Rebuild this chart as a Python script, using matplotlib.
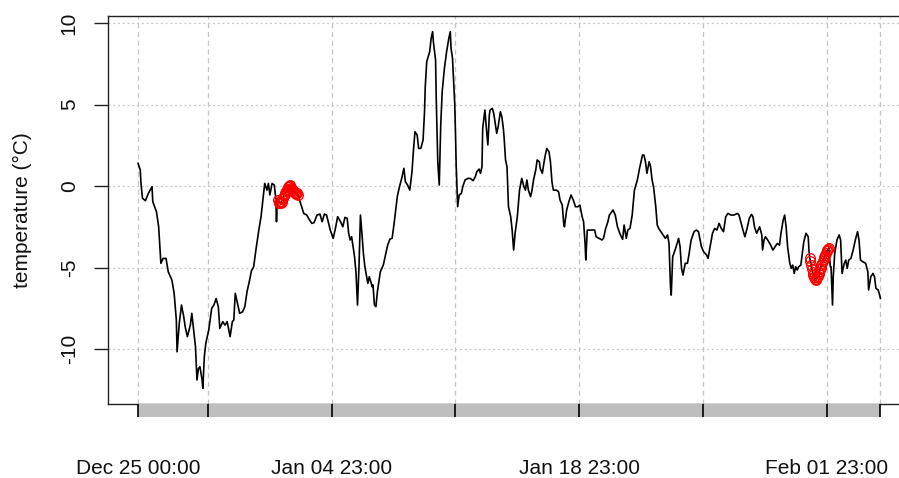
import numpy as np
import pandas as pd
import matplotlib
matplotlib.use("Agg")
import matplotlib.pyplot as plt
import matplotlib.transforms as mtransforms

plt.rcParams["font.family"] = ["Liberation Sans", "DejaVu Sans"]

# Hourly air temperature, stored as (hours since start, value)
start = pd.Timestamp("2014-12-25 00:00")

hours = [
    0, 3, 4, 6, 10, 14, 19, 20, 25, 28, 31, 34, 38, 41, 46, 49, 52, 53, 56, 59,
    62, 64, 67, 71, 73, 75, 78, 80, 82, 84, 87, 88, 90, 92, 96, 100, 103, 106, 109, 111,
    115, 118, 121, 125, 128, 130, 132, 135, 138, 142, 145, 148, 151, 154, 157, 160, 164, 167, 170, 172,
    175, 177, 179, 182, 185, 187, 188, 189,
    220, 225, 229, 233, 236, 239, 243, 247, 250, 253, 256, 261, 265, 268, 271, 275, 278, 281, 284, 286,
    288, 290, 294, 296, 298, 300, 302, 304, 306, 308, 312, 314, 318, 319, 321, 323, 325, 329, 333, 336,
    339, 342, 345, 348, 352, 355, 358, 361, 363, 366, 369, 372, 374, 376, 379, 381, 384, 387, 389, 390,
    392, 396, 398, 400, 401, 404, 405, 406, 407, 409, 410, 411, 413, 416, 419, 422, 424, 425, 427, 430,
    431, 432, 434, 436, 439, 441, 444, 448, 451, 455, 458, 460, 463, 465, 467, 468, 471, 473, 475, 477,
    478, 481, 483, 487, 489, 492, 494, 496, 497, 499, 501, 503, 506, 508, 510, 512, 515, 518, 521, 524,
    526, 528, 530, 533, 535, 537, 540, 542, 545, 546, 549, 551, 553, 555, 558, 560, 562, 564, 568, 571,
    573, 576, 578, 579, 582, 585, 588, 591, 594, 597, 600, 603, 605, 607, 608, 610, 612, 617, 620, 622,
    626, 630, 632, 635, 638, 640, 645, 648, 651, 655, 658, 660, 663, 665, 668, 671, 674, 678, 681, 685,
    687, 689, 691, 694, 696, 698, 700, 703, 705, 707, 710, 713, 716, 719, 721, 723, 724, 726, 730, 734,
    736, 738, 740, 743, 746, 748, 751, 755, 758, 761, 765, 768, 772, 774, 776, 780, 783, 786, 789, 792,
    795, 798, 801, 805, 809, 814, 816, 819, 822, 824, 827, 830, 833, 835, 837, 840, 842, 844, 847, 848,
    850, 852, 855, 859, 862, 865, 868, 871, 873, 876, 878, 880, 882, 885, 887, 889, 891, 893, 895, 897,
    900, 902, 904, 907, 910, 911,
    940, 941, 943, 944, 946, 949, 952, 954, 956, 959, 961, 963, 965, 968, 971, 974, 977, 979, 981, 984,
    988, 991, 992, 995, 998, 1000, 1002, 1005, 1007, 1008,
]

temps = [
    1.39, 0.98, 0.17, -0.75, -0.90, -0.45, -0.04, -0.96, -1.58, -2.50, -4.74, -4.44, -4.44, -5.26, -5.77, -6.58, -8.22, -10.17, -8.42, -7.30,
    -8.00, -8.63, -9.24, -8.53, -7.81, -8.63, -9.86, -11.90, -11.20, -11.08, -11.90, -12.41, -10.47, -9.65, -8.83, -7.50, -7.30, -6.90, -7.40, -8.73,
    -8.32, -8.53, -8.32, -9.24, -8.32, -8.22, -6.58, -7.20, -7.81, -7.71, -7.40, -6.48, -5.87, -5.20, -4.95, -3.93, -2.70, -1.88, -0.65, 0.16,
    -0.25, 0.16, -0.55, 0.16, 0.06, -0.75, -2.19, -0.96,
    -0.96, -1.68, -1.78, -2.09, -2.29, -2.25, -1.78, -1.72, -2.19, -1.72, -1.78, -2.70, -3.21, -2.60, -1.88, -2.19, -2.50, -1.92, -1.98, -2.90,
    -3.31, -3.11, -4.34, -5.36, -7.30, -4.95, -1.78, -2.90, -4.13, -4.95, -5.97, -5.56, -6.18, -6.07, -7.30, -7.40, -6.48, -5.26, -4.85, -4.23,
    -3.62, -3.25, -3.21, -2.19, -0.65, -0.04, 0.47, 1.09, 0.27, 0.06, -0.25, 0.88, 2.21, 3.33, 3.13, 2.31, 2.31, 2.82, 4.56, 6.09,
    7.63, 8.24, 9.06, 9.47, 8.85, 7.73, 5.17, 3.33, 1.49, 0.06, 1.90, 3.74, 5.79, 7.22, 8.24, 9.06, 9.47, 8.45, 7.83, 5.07,
    3.33, 1.29, -1.27, -0.55, -0.45, -0.04, 0.37, 0.47, 0.47, 0.33, 0.57, 0.88, 1.04, 0.78, 1.18, 3.54, 4.66, 3.54, 2.52, 4.36,
    4.66, 4.77, 4.46, 3.23, 3.64, 4.56, 4.25, 3.54, 3.02, 1.60, 1.18, -1.27, -1.88, -2.70, -3.93, -2.90, -1.88, -0.25, 0.47, -0.04,
    -0.25, 0.37, -0.25, -0.65, -0.25, 0.37, 0.98, 1.60, 1.49, 1.09, 0.78, 1.39, 1.90, 2.31, 2.10, 1.49, 0.27, -0.25, -0.25, -0.35,
    -0.86, -1.17, -2.29, -2.50, -1.47, -0.96, -0.55, -0.86, -1.27, -1.27, -1.17, -1.88, -2.19, -3.52, -4.54, -2.70, -2.70, -2.70, -2.70, -3.11,
    -3.21, -3.31, -3.21, -2.60, -2.19, -1.78, -1.47, -1.78, -2.50, -3.00, -3.27, -2.39, -3.21, -2.70, -2.60, -1.78, -0.25, 0.37, 1.09, 1.90,
    1.90, 1.49, 0.78, 1.49, 1.18, 0.37, -0.04, -1.27, -2.39, -2.60, -2.80, -3.00, -3.21, -3.00, -3.52, -6.18, -6.69, -4.34, -3.82, -3.21,
    -3.72, -5.05, -5.46, -4.74, -4.74, -4.23, -3.31, -2.80, -2.70, -2.80, -3.72, -4.03, -4.23, -4.44, -3.93, -2.90, -2.60, -2.70, -2.29, -2.60,
    -2.80, -1.88, -1.68, -1.78, -1.78, -1.68, -1.78, -2.29, -2.80, -3.11, -2.60, -1.98, -1.74, -1.88, -2.50, -2.90, -2.70, -2.50, -3.00, -3.93,
    -3.31, -3.11, -3.31, -3.62, -3.93, -3.72, -3.52, -3.62, -2.90, -2.09, -1.78, -2.50, -3.72, -4.74, -5.05, -4.85, -5.36, -4.95, -5.15, -4.95,
    -4.85, -4.13, -3.42, -2.90, -3.11, -3.93,
    -4.95, -4.95, -7.30, -5.56, -4.13, -3.31, -3.00, -3.31, -5.36, -4.74, -4.54, -5.05, -4.54, -4.44, -3.93, -3.31, -2.80, -3.31, -4.54, -4.64,
    -4.74, -5.26, -6.38, -5.56, -5.36, -5.56, -6.28, -6.38, -6.69, -6.89,
]

# Flagged hours, drawn as open red circles
flag_hours = list(range(190, 218)) + list(range(912, 939))
flag_temps = [
    -0.85, -0.95, -1.05, -1.00, -1.05, -0.95, -0.80, -0.75, -0.60, -0.50,
    -0.45, -0.30, -0.25, -0.20, -0.05, 0.00, 0.05, 0.00, -0.10, -0.20,
    -0.30, -0.25, -0.35, -0.45, -0.40, -0.50, -0.45, -0.55,
    -4.40, -4.60, -4.85, -5.10, -5.30, -5.45, -5.60, -5.70, -5.75, -5.70,
    -5.60, -5.50, -5.40, -5.25, -5.10, -5.00, -4.85, -4.70, -4.60, -4.45,
    -4.35, -4.25, -4.10, -4.00, -3.95, -3.85, -3.80,
]

# Weekly divisions of the time axis (hours since start) and labelled ones
tick_hours = [0, 95, 263, 431, 599, 767, 935, 1008]
label_hours = [0, 263, 599, 935]
label_fmt = "%b %d %H:%M"

y_ticks = [-10, -5, 0, 5, 10]
y_label = "temperature (°C)"

# full series = regular samples + flagged samples, in time order
series = pd.Series(temps + flag_temps, index=hours + flag_hours).sort_index()

W, H = 899, 478
fig = plt.figure(figsize=(W / 100, H / 100), dpi=100)

ax = fig.add_axes([108 / W, 1 - 404 / H, (901 - 108) / W, (404 - 16) / H])
ax.set_xlim(-40.8, 1036)
ax.set_ylim(-13.37, 10.43)

# grid
for h in tick_hours:
    ax.axvline(h, color="#c4c4c4", lw=0.9, ls=(0, (4, 3)), zorder=1)
for v in y_ticks:
    ax.axhline(v, color="#c8c8c8", lw=0.9, ls=(0, (1.6, 2.2)), zorder=1)

ax.plot(series.index, series.values, color="black", lw=1.2, zorder=3)
ax.plot(flag_hours, flag_temps, ls="none", marker="o", ms=7,
        mfc="none", mec="#ff0000", mew=0.9, zorder=4)

ax.set_xticks([])
ax.set_yticks(y_ticks)
ax.set_yticklabels([str(v) for v in y_ticks], rotation=90, va="center",
                   fontsize=15, color="#111111")
ax.tick_params(axis="y", length=10, width=1, pad=11, color="#222222")
ax.set_ylabel(y_label, fontsize=15, color="#111111", labelpad=20)
for s in ["left", "top", "bottom"]:
    ax.spines[s].set_linewidth(1.0)
    ax.spines[s].set_color("#222222")
ax.spines["right"].set_visible(False)

# grey period band under the plot
band = fig.add_axes([108 / W, 1 - 417 / H, (901 - 108) / W, 13 / H], sharex=ax)
band.set_ylim(0, 1)
band.axvspan(tick_hours[0], tick_hours[-1], color="#bebebe", lw=0)
for h in tick_hours:
    band.axvline(h, color="black", lw=1.2)
band.axis("off")

# date labels
trans = mtransforms.blended_transform_factory(ax.transData, fig.transFigure)
for h in label_hours:
    t = start + pd.Timedelta(hours=h)
    ax.text(h, 1 - 468 / H, t.strftime(label_fmt), transform=trans,
            ha="center", va="center", fontsize=15, color="#111111", clip_on=False)

fig.savefig("out.png", dpi=100)
